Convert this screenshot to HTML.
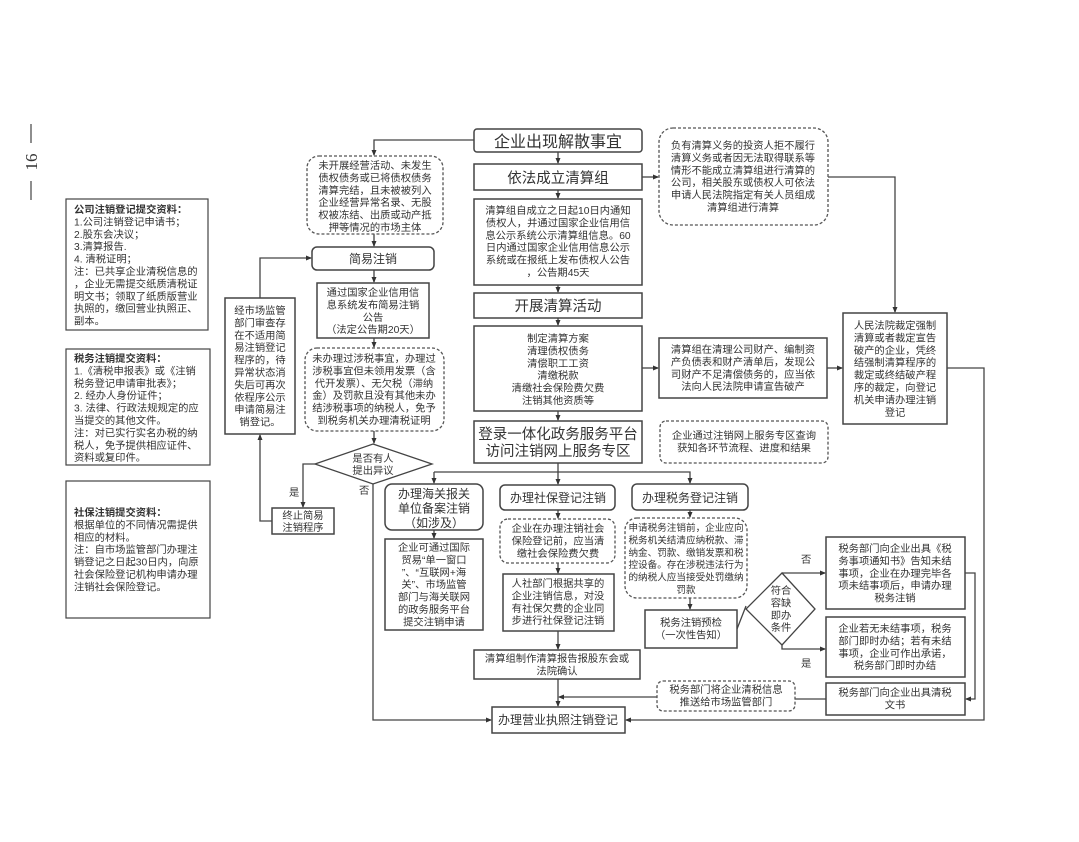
<!DOCTYPE html>
<html><head><meta charset="utf-8"><style>
html,body{margin:0;padding:0;background:#fff;}
svg{display:block;font-family:"Liberation Sans","Noto Sans CJK SC",sans-serif;}
text{fill:#333;}
.s{font-size:10.3px;}
.t{font-size:9.6px;}
.b{fill:#fff;stroke:#444;stroke-width:1.5;}
.d{fill:#fff;stroke:#555;stroke-width:1.3;stroke-dasharray:3,2;}
.l{fill:none;stroke:#444;stroke-width:1.3;}
</style></head><body>
<svg width="1079" height="842" viewBox="0 0 1079 842" xmlns="http://www.w3.org/2000/svg">
<defs><marker id="a" markerWidth="6" markerHeight="6" refX="5" refY="3" orient="auto" markerUnits="userSpaceOnUse"><path d="M0,0.5 L6,3 L0,5.5z" fill="#333"/></marker></defs>

<line x1="31" y1="124" x2="31" y2="143" stroke="#444" stroke-width="1.2"/>
<line x1="31" y1="181" x2="31" y2="200" stroke="#444" stroke-width="1.2"/>
<text x="31" y="162" font-size="17" text-anchor="middle" transform="rotate(-90 31 162)" dy="6" font-family="Liberation Serif">16</text>

<rect x="66" y="199" width="142" height="131" class="b" style="stroke-width:1.2"/>
<text class="s" x="74" y="213"><tspan font-weight="bold">公司注销登记提交资料：</tspan><tspan x="74" dy="12.4">1.公司注销登记申请书；</tspan><tspan x="74" dy="12.4">2.股东会决议；</tspan><tspan x="74" dy="12.4">3.清算报告.</tspan><tspan x="74" dy="12.4">4. 清税证明；</tspan><tspan x="74" dy="12.4">注：已共享企业清税信息的</tspan><tspan x="74" dy="12.4">，企业无需提交纸质清税证</tspan><tspan x="74" dy="12.4">明文书；领取了纸质版营业</tspan><tspan x="74" dy="12.4">执照的，缴回营业执照正、</tspan><tspan x="74" dy="12.4">副本。</tspan></text>

<rect x="66" y="349" width="144" height="116" class="b" style="stroke-width:1.2"/>
<text class="s" x="74" y="362"><tspan font-weight="bold">税务注销提交资料：</tspan><tspan x="74" dy="12.4">1.《清税申报表》或《注销</tspan><tspan x="74" dy="12.4">税务登记申请审批表》；</tspan><tspan x="74" dy="12.4">2. 经办人身份证件；</tspan><tspan x="74" dy="12.4">3. 法律、行政法规规定的应</tspan><tspan x="74" dy="12.4">当提交的其他文件。</tspan><tspan x="74" dy="12.4">注：对已实行实名办税的纳</tspan><tspan x="74" dy="12.4">税人，免予提供相应证件、</tspan><tspan x="74" dy="12.4">资料或复印件。</tspan></text>

<rect x="66" y="481" width="144" height="137" class="b" style="stroke-width:1.2"/>
<text class="s" x="74" y="516"><tspan font-weight="bold">社保注销提交资料：</tspan><tspan x="74" dy="12.4">根据单位的不同情况需提供</tspan><tspan x="74" dy="12.4">相应的材料。</tspan><tspan x="74" dy="12.4">注：自市场监管部门办理注</tspan><tspan x="74" dy="12.4">销登记之日起30日内，向原</tspan><tspan x="74" dy="12.4">社会保险登记机构申请办理</tspan><tspan x="74" dy="12.4">注销社会保险登记。</tspan></text>

<path class="l" d="M474,140 H374 V155" marker-end="url(#a)"/>
<path class="l" d="M374,234 V246" marker-end="url(#a)"/>
<path class="l" d="M374,270 V282" marker-end="url(#a)"/>
<path class="l" d="M374,338 V347" marker-end="url(#a)"/>
<path class="l" d="M374,431 V443" marker-end="url(#a)"/>
<path class="l" d="M315,464 H303 V507" marker-end="url(#a)"/>
<path class="l" d="M373,484 V720 H491" marker-end="url(#a)"/>
<path class="l" d="M272,521 H260 V435" marker-end="url(#a)"/>
<path class="l" d="M260,298 V258 H311" marker-end="url(#a)"/>
<path class="l" d="M558,152 V163" marker-end="url(#a)"/>
<path class="l" d="M558,190 V198" marker-end="url(#a)"/>
<path class="l" d="M558,285 V292" marker-end="url(#a)"/>
<path class="l" d="M558,318 V325" marker-end="url(#a)"/>
<path class="l" d="M558,411 V420" marker-end="url(#a)"/>
<path class="l" d="M642,177 H658" marker-end="url(#a)"/>
<path class="l" d="M828,177 H895 V312" marker-end="url(#a)"/>
<path class="l" d="M642,368 H658" marker-end="url(#a)"/>
<path class="l" d="M827,368 H842" marker-end="url(#a)"/>
<path class="l" d="M947,368 H984 V720 H626" marker-end="url(#a)"/>
<path class="l" d="M558,463 V472"/>
<path class="l" d="M434,472 H690 V483" marker-end="url(#a)"/>
<path class="l" d="M434,472 V483" marker-end="url(#a)"/>
<path class="l" d="M558,472 V484" marker-end="url(#a)"/>
<path class="l" d="M434,530 V538" marker-end="url(#a)"/>
<path class="l" d="M558,510 V518" marker-end="url(#a)"/>
<path class="l" d="M558,563 V573" marker-end="url(#a)"/>
<path class="l" d="M558,631 V649" marker-end="url(#a)"/>
<path class="l" d="M558,679 V706" marker-end="url(#a)"/>
<path class="l" d="M657,697 H559" marker-end="url(#a)"/>
<path class="l" d="M690,510 V517" marker-end="url(#a)"/>
<path class="l" d="M690,598 V609" marker-end="url(#a)"/>
<path class="l" d="M737,629 L746,606"/>
<path class="l" d="M782,573 H825" marker-end="url(#a)"/>
<path class="l" d="M782,645 V649 H825" marker-end="url(#a)"/>
<path class="l" d="M965,573 H975 V699 H966" marker-end="url(#a)"/>
<path class="l" d="M826,699 H795"/>

<rect x="307" y="156" width="136" height="78" rx="12" class="d"/>
<text class="s" text-anchor="middle" x="375" y="169"><tspan>未开展经营活动、未发生</tspan><tspan x="375" dy="12.4">债权债务或已将债权债务</tspan><tspan x="375" dy="12.4">清算完结，且未被被列入</tspan><tspan x="375" dy="12.4">企业经营异常名录、无股</tspan><tspan x="375" dy="12.4">权被冻结、出质或动产抵</tspan><tspan x="375" dy="12.4">押等情况的市场主体</tspan></text>

<rect x="312" y="247" width="122" height="23" rx="5" class="b"/>
<text x="373" y="263" font-size="12" text-anchor="middle">简易注销</text>

<rect x="317" y="283" width="112" height="55" class="b"/>
<text class="s" text-anchor="middle" x="373" y="296"><tspan>通过国家企业信用信</tspan><tspan x="373" dy="12.4">息系统发布简易注销</tspan><tspan x="373" dy="12.4">公告</tspan><tspan x="373" dy="12.4">（法定公告期20天）</tspan></text>

<rect x="305" y="348" width="139" height="83" rx="12" class="d"/>
<text class="s" text-anchor="middle" x="374" y="362"><tspan>未办理过涉税事宜，办理过</tspan><tspan x="374" dy="12.4">涉税事宜但未领用发票（含</tspan><tspan x="374" dy="12.4">代开发票）、无欠税（滞纳</tspan><tspan x="374" dy="12.4">金）及罚款且没有其他未办</tspan><tspan x="374" dy="12.4">结涉税事项的纳税人，免予</tspan><tspan x="374" dy="12.4">到税务机关办理清税证明</tspan></text>

<polygon points="373,444 432,464 373,484 315,464" class="b" style="stroke-width:1.3"/>
<text class="s" text-anchor="middle" x="373" y="462"><tspan>是否有人</tspan><tspan x="373" dy="12">提出异议</tspan></text>
<text class="s" x="289" y="496">是</text>
<text class="s" x="359" y="494">否</text>

<rect x="225" y="298" width="70" height="136" class="b"/>
<text class="s" text-anchor="middle" x="260" y="314"><tspan>经市场监管</tspan><tspan x="260" dy="12.4">部门审查存</tspan><tspan x="260" dy="12.4">在不适用简</tspan><tspan x="260" dy="12.4">易注销登记</tspan><tspan x="260" dy="12.4">程序的，待</tspan><tspan x="260" dy="12.4">异常状态消</tspan><tspan x="260" dy="12.4">失后可再次</tspan><tspan x="260" dy="12.4">依程序公示</tspan><tspan x="260" dy="12.4">申请简易注</tspan><tspan x="260" dy="12.4">销登记。</tspan></text>

<rect x="272" y="508" width="62" height="26" class="b"/>
<text class="s" text-anchor="middle" x="303" y="519"><tspan>终止简易</tspan><tspan x="303" dy="12">注销程序</tspan></text>

<rect x="474" y="129" width="168" height="23" rx="3" class="b"/>
<text x="558" y="147" font-size="16" text-anchor="middle">企业出现解散事宜</text>
<rect x="474" y="164" width="168" height="26" class="b"/>
<text x="558" y="183" font-size="14.5" text-anchor="middle">依法成立清算组</text>
<rect x="474" y="199" width="168" height="86" class="b"/>
<text class="s" text-anchor="middle" x="558" y="214"><tspan>清算组自成立之日起10日内通知</tspan><tspan x="558" dy="12.4">债权人，并通过国家企业信用信</tspan><tspan x="558" dy="12.4">息公示系统公示清算组信息。60</tspan><tspan x="558" dy="12.4">日内通过国家企业信用信息公示</tspan><tspan x="558" dy="12.4">系统或在报纸上发布债权人公告</tspan><tspan x="558" dy="12.4">，公告期45天</tspan></text>
<rect x="474" y="293" width="168" height="25" class="b"/>
<text x="558" y="311" font-size="14.5" text-anchor="middle">开展清算活动</text>
<rect x="474" y="326" width="168" height="85" class="b"/>
<text class="s" text-anchor="middle" x="558" y="342"><tspan>制定清算方案</tspan><tspan x="558" dy="12.4">清理债权债务</tspan><tspan x="558" dy="12.4">清偿职工工资</tspan><tspan x="558" dy="12.4">清缴税款</tspan><tspan x="558" dy="12.4">清缴社会保险费欠费</tspan><tspan x="558" dy="12.4">注销其他资质等</tspan></text>
<rect x="474" y="421" width="168" height="42" class="b"/>
<text font-size="14.5" text-anchor="middle" x="558" y="439"><tspan>登录一体化政务服务平台</tspan><tspan x="558" dy="17">访问注销网上服务专区</tspan></text>

<rect x="659" y="128" width="169" height="97" rx="14" class="d"/>
<text class="s" text-anchor="middle" x="743" y="149"><tspan>负有清算义务的投资人拒不履行</tspan><tspan x="743" dy="12.4">清算义务或者因无法取得联系等</tspan><tspan x="743" dy="12.4">情形不能成立清算组进行清算的</tspan><tspan x="743" dy="12.4">公司，相关股东或债权人可依法</tspan><tspan x="743" dy="12.4">申请人民法院指定有关人员组成</tspan><tspan x="743" dy="12.4">清算组进行清算</tspan></text>
<rect x="659" y="338" width="168" height="60" class="b"/>
<text class="s" text-anchor="middle" x="743" y="353"><tspan>清算组在清理公司财产、编制资</tspan><tspan x="743" dy="12.4">产负债表和财产清单后，发现公</tspan><tspan x="743" dy="12.4">司财产不足清偿债务的，应当依</tspan><tspan x="743" dy="12.4">法向人民法院申请宣告破产</tspan></text>
<rect x="843" y="313" width="104" height="111" class="b"/>
<text class="s" text-anchor="middle" x="895" y="329"><tspan>人民法院裁定强制</tspan><tspan x="895" dy="12.4">清算或者裁定宣告</tspan><tspan x="895" dy="12.4">破产的企业，凭终</tspan><tspan x="895" dy="12.4">结强制清算程序的</tspan><tspan x="895" dy="12.4">裁定或终结破产程</tspan><tspan x="895" dy="12.4">序的裁定，向登记</tspan><tspan x="895" dy="12.4">机关申请办理注销</tspan><tspan x="895" dy="12.4">登记</tspan></text>
<rect x="660" y="421" width="168" height="42" rx="6" class="d"/>
<text class="s" text-anchor="middle" x="744" y="439"><tspan>企业通过注销网上服务专区查询</tspan><tspan x="744" dy="12.4">获知各环节流程、进度和结果</tspan></text>

<rect x="385" y="484" width="98" height="46" rx="7" class="b"/>
<text font-size="12" text-anchor="middle" x="434" y="498"><tspan>办理海关报关</tspan><tspan x="434" dy="14.5">单位备案注销</tspan><tspan x="434" dy="14.5">（如涉及）</tspan></text>
<rect x="385" y="539" width="98" height="91" class="b"/>
<text class="s" text-anchor="middle" x="434" y="551"><tspan>企业可通过国际</tspan><tspan x="434" dy="12.4">贸易“单一窗口</tspan><tspan x="434" dy="12.4">”、“互联网+海</tspan><tspan x="434" dy="12.4">关”、市场监管</tspan><tspan x="434" dy="12.4">部门与海关联网</tspan><tspan x="434" dy="12.4">的政务服务平台</tspan><tspan x="434" dy="12.4">提交注销申请</tspan></text>

<rect x="500" y="485" width="115" height="25" rx="5" class="b"/>
<text font-size="12" text-anchor="middle" x="558" y="502">办理社保登记注销</text>
<rect x="500" y="519" width="115" height="44" rx="8" class="d"/>
<text class="s" text-anchor="middle" x="558" y="532"><tspan>企业在办理注销社会</tspan><tspan x="558" dy="12.4">保险登记前，应当清</tspan><tspan x="558" dy="12.4">缴社会保险费欠费</tspan></text>
<rect x="503" y="574" width="111" height="57" class="b"/>
<text class="s" text-anchor="middle" x="558" y="587"><tspan>人社部门根据共享的</tspan><tspan x="558" dy="12.4">企业注销信息，对没</tspan><tspan x="558" dy="12.4">有社保欠费的企业同</tspan><tspan x="558" dy="12.4">步进行社保登记注销</tspan></text>
<rect x="474" y="650" width="166" height="29" class="b"/>
<text class="s" text-anchor="middle" x="557" y="662"><tspan>清算组制作清算报告报股东会或</tspan><tspan x="557" dy="12.4">法院确认</tspan></text>
<rect x="492" y="707" width="133" height="26" class="b"/>
<text font-size="12" text-anchor="middle" x="558" y="724">办理营业执照注销登记</text>

<rect x="632" y="484" width="116" height="26" rx="5" class="b"/>
<text font-size="12" text-anchor="middle" x="690" y="502">办理税务登记注销</text>
<rect x="625" y="518" width="122" height="80" rx="12" class="d"/>
<text class="t" text-anchor="middle" x="686" y="531"><tspan>申请税务注销前，企业应向</tspan><tspan x="686" dy="12.4">税务机关结清应纳税款、滞</tspan><tspan x="686" dy="12.4">纳金、罚款、缴销发票和税</tspan><tspan x="686" dy="12.4">控设备。存在涉税违法行为</tspan><tspan x="686" dy="12.4">的纳税人应当接受处罚缴纳</tspan><tspan x="686" dy="12.4">罚款</tspan></text>
<rect x="645" y="610" width="92" height="38" class="b"/>
<text class="s" text-anchor="middle" x="691" y="626"><tspan>税务注销预检</tspan><tspan x="691" dy="12.4">（一次性告知）</tspan></text>
<polygon points="782,573 815,609 782,645 746,609" class="b" style="stroke-width:1.3"/>
<text class="s" text-anchor="middle" x="781" y="594"><tspan>符合</tspan><tspan x="781" dy="12.4">容缺</tspan><tspan x="781" dy="12.4">即办</tspan><tspan x="781" dy="12.4">条件</tspan></text>
<text class="s" x="801" y="563">否</text>
<text class="s" x="801" y="667">是</text>

<rect x="826" y="537" width="139" height="72" class="b"/>
<text class="s" text-anchor="middle" x="895" y="552"><tspan>税务部门向企业出具《税</tspan><tspan x="895" dy="12.4">务事项通知书》告知未结</tspan><tspan x="895" dy="12.4">事项，企业在办理完毕各</tspan><tspan x="895" dy="12.4">项未结事项后，申请办理</tspan><tspan x="895" dy="12.4">税务注销</tspan></text>
<rect x="826" y="617" width="139" height="60" class="b"/>
<text class="s" text-anchor="middle" x="895" y="632"><tspan>企业若无未结事项，税务</tspan><tspan x="895" dy="12.4">部门即时办结；若有未结</tspan><tspan x="895" dy="12.4">事项，企业可作出承诺，</tspan><tspan x="895" dy="12.4">税务部门即时办结</tspan></text>
<rect x="826" y="683" width="139" height="32" class="b"/>
<text class="s" text-anchor="middle" x="895" y="696"><tspan>税务部门向企业出具清税</tspan><tspan x="895" dy="12.4">文书</tspan></text>
<rect x="657" y="681" width="138" height="30" rx="6" class="d"/>
<text class="s" text-anchor="middle" x="726" y="693"><tspan>税务部门将企业清税信息</tspan><tspan x="726" dy="12.4">推送给市场监管部门</tspan></text>
</svg>
</body></html>
